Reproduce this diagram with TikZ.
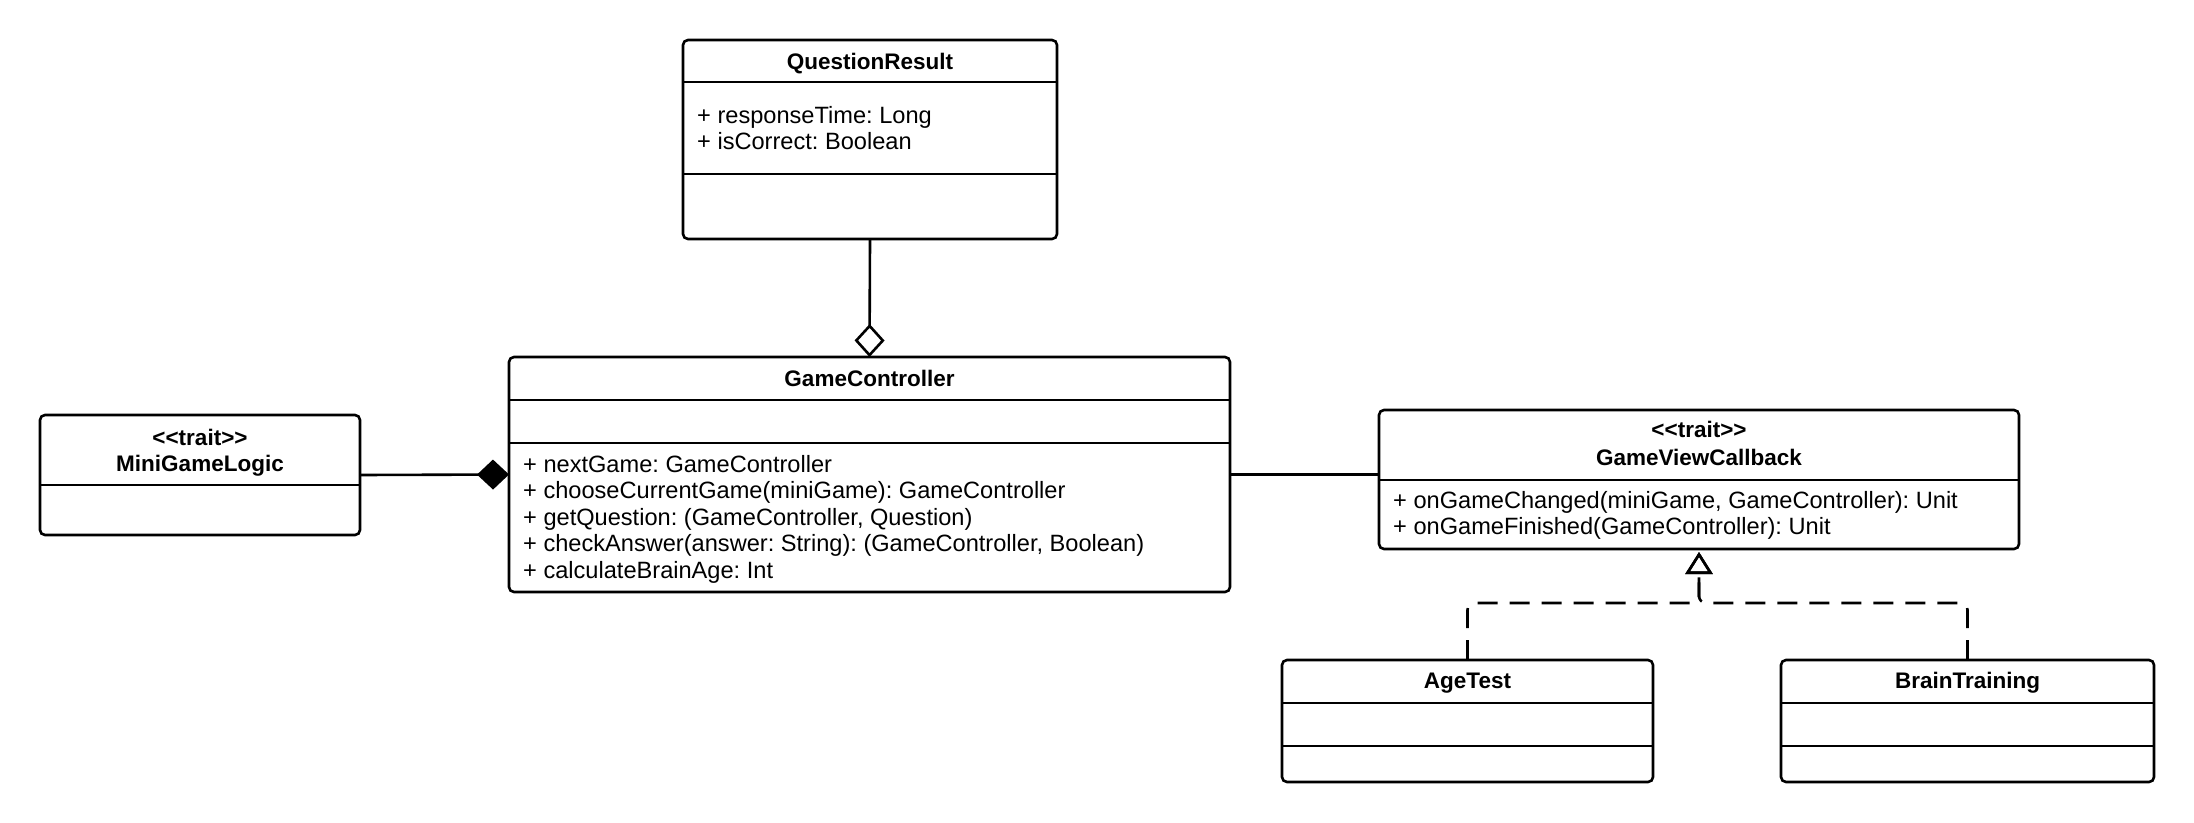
\documentclass[tikz,border=0pt]{standalone}
\usepackage{fontspec}
\setmainfont{Liberation Sans}
\usetikzlibrary{arrows.meta}
\frenchspacing
\newcommand{\fsz}{\fontsize{22.5}{26.5}\selectfont}
\newcommand{\fszb}{\fontsize{23.6}{26.5}\selectfont}
\tikzset{
  cls/.style={draw, line width=2.6pt, rounded corners=5pt, anchor=north west, inner sep=0pt, outer sep=0pt},
  sepline/.style={line width=2.6pt},
  ttl/.style={anchor=base, inner sep=0pt, font=\fsz\bfseries},
  att/.style={anchor=base west, inner sep=0pt, font=\fszb\frenchspacing},
  conn/.style={line width=2.6pt},
  real/.style={line width=2.6pt, dash pattern=on 20pt off 12pt, rounded corners=7pt},
}
\begin{document}
\begin{tikzpicture}[x=1pt,y=-1pt]
\useasboundingbox (0,0) rectangle (2194,822);
% QuestionResult
\node[cls, minimum width=374pt, minimum height=199pt] (qr) at (683,40) {};
\draw[sepline] (683,82) -- (1057,82);
\draw[sepline] (683,174) -- (1057,174);
\node[ttl] (qrt) at (870,69) {QuestionResult};
\node[att] (qra1) at (697,123) {+ responseTime: Long};
\node[att] (qra2) at (697,149.5) {+ isCorrect: Boolean};
% GameController
\node[cls, minimum width=721pt, minimum height=235pt] (gc) at (509,357) {};
\draw[sepline] (509,400) -- (1230,400);
\draw[sepline] (509,443) -- (1230,443);
\node[ttl] (gct) at (869.5,386) {GameController};
\node[att] (gcm1) at (523,472) {+ nextGame: GameController};
\node[att] (gcm2) at (523,498.5) {+ chooseCurrentGame(miniGame): GameController};
\node[att] (gcm3) at (523,525) {+ getQuestion: (GameController, Question)};
\node[att] (gcm4) at (523,551.5) {+ checkAnswer(answer: String): (GameController, Boolean)};
\node[att] (gcm5) at (523,578) {+ calculateBrainAge: Int};
% MiniGameLogic
\node[cls, minimum width=320pt, minimum height=120pt] (mgl) at (40,415) {};
\draw[sepline] (40,485) -- (360,485);
\node[ttl] (mglt1) at (200,445) {<{}<trait>{}>};
\node[ttl] (mglt2) at (200,471) {MiniGameLogic};
% GameViewCallback
\node[cls, minimum width=640pt, minimum height=139pt] (gvc) at (1379,410) {};
\draw[sepline] (1379,480) -- (2019,480);
\node[ttl] (gvct1) at (1699,437) {<{}<trait>{}>};
\node[ttl] (gvct2) at (1699,465) {GameViewCallback};
\node[att] (gvcm1) at (1393,508) {+ onGameChanged(miniGame, GameController): Unit};
\node[att] (gvcm2) at (1393,534.5) {+ onGameFinished(GameController): Unit};
% AgeTest
\node[cls, minimum width=371pt, minimum height=122pt] (agetest) at (1282,660) {};
\draw[sepline] (1282,703) -- (1653,703);
\draw[sepline] (1282,746) -- (1653,746);
\node[ttl] (att) at (1467.5,688) {AgeTest};
% BrainTraining
\node[cls, minimum width=373pt, minimum height=122pt] (brain) at (1781,660) {};
\draw[sepline] (1781,703) -- (2154,703);
\draw[sepline] (1781,746) -- (2154,746);
\node[ttl] (brt) at (1967.5,688) {BrainTraining};
% connectors
\draw[conn, -{Diamond[open, length=33pt, width=30pt]}] (qr.south) -- (gc.north);
\draw[conn, -{Diamond[length=32pt, width=30pt]}] (mgl.east) -- (gc.west);
\draw[conn] (gc.east) -- (gc.east -| gvc.west);
\coordinate (j) at (1699,603);
\draw[real, -{Triangle[open, length=22pt, width=27pt]}, shorten >=3pt] (agetest.north) |- (j) -- (gvc.south);
\draw[real, -{Triangle[open, length=22pt, width=27pt]}, shorten >=3pt] (brain.north) |- (j) -- (gvc.south);
\end{tikzpicture}
\end{document}
